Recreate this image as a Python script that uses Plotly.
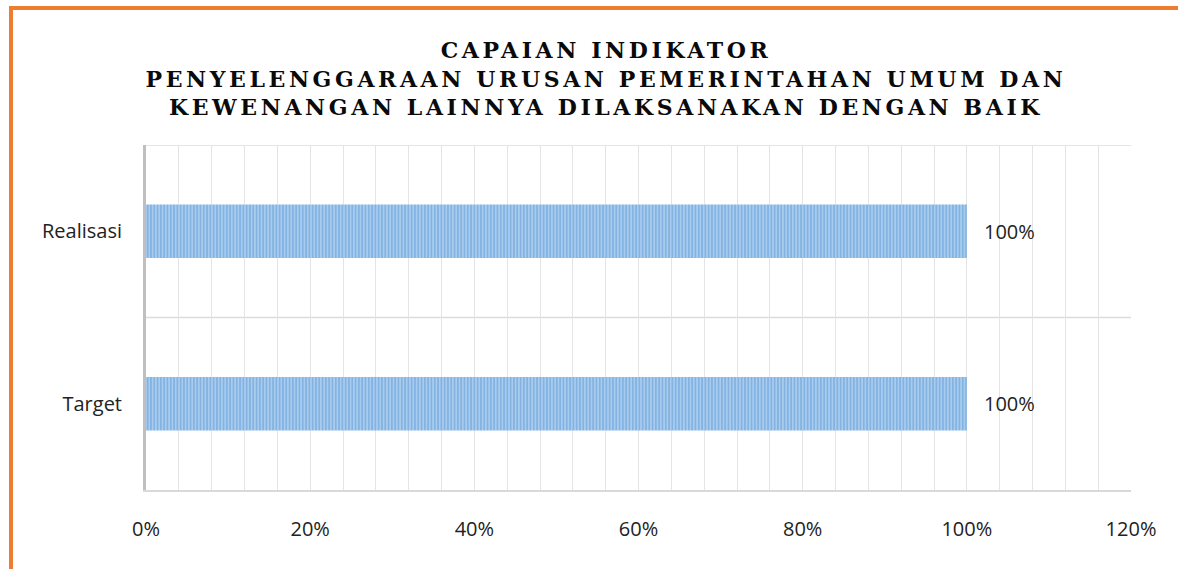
import plotly.graph_objects as go

categories = ["Target", "Realisasi"]
values = [1.0, 1.0]
value_labels = ["100%", "100%"]
x_tick_vals = [0, 0.2, 0.4, 0.6, 0.8, 1.0, 1.2]
x_tick_text = ["0%", "20%", "40%", "60%", "80%", "100%", "120%"]
title_lines = [
    "CAPAIAN INDIKATOR",
    "PENYELENGGARAAN URUSAN PEMERINTAHAN UMUM DAN",
    "KEWENANGAN LAINNYA DILAKSANAKAN DENGAN BAIK",
]

W, H = 1178, 569
L, R, T, B = 146, 47, 145, 79
pw, ph = W - L - R, H - T - B

def px_to_paper_x(px):
    return (px - L) / pw

def py_to_paper_y(py):
    return (H - B - py) / ph

FONT = "Open Sans"

fig = go.Figure()
fig.add_trace(go.Bar(
    y=categories, x=values, orientation="h",
    marker=dict(
        color="#9dc3e6",
        line=dict(width=0),
        pattern=dict(shape="|", fgcolor="#5b9bd5", bgcolor="#a8cbee", size=3.3, solidity=0.5),
    ),
    hoverinfo="skip",
))

for c, v, t in zip(categories, values, value_labels):
    fig.add_annotation(x=v, y=c, text=t, showarrow=False, xanchor="left",
                       xshift=15, font=dict(family=FONT, size=20, color="#222222"))

shapes = []
for yb in [0.5, 1.5]:
    shapes.append(dict(type="line", xref="paper", yref="y", x0=0, x1=1, y0=yb, y1=yb,
                       line=dict(color="#dcdcdc", width=1.5), layer="below"))
shapes.append(dict(type="line", xref="paper", yref="paper",
                   x0=px_to_paper_x(11), x1=px_to_paper_x(11),
                   y0=py_to_paper_y(8), y1=py_to_paper_y(H + 5),
                   line=dict(color="#ed7d31", width=4)))
shapes.append(dict(type="line", xref="paper", yref="paper",
                   x0=px_to_paper_x(9), x1=px_to_paper_x(W + 5),
                   y0=py_to_paper_y(8), y1=py_to_paper_y(8),
                   line=dict(color="#ed7d31", width=4)))

fig.update_layout(
    width=W, height=H,
    margin=dict(l=L, r=R, t=T, b=B),
    paper_bgcolor="white", plot_bgcolor="white",
    bargap=0.69,
    showlegend=False,
    shapes=shapes,
    title=dict(
        text="<br>".join(title_lines),
        x=606 / W, xanchor="center", xref="container",
        y=1 - 58 / H, yanchor="top", yref="container",
        font=dict(family="DejaVu Serif", size=22, color="#0a0a0a", weight="bold"),
    ),
    xaxis=dict(
        range=[0, 1.2], tickvals=x_tick_vals, ticktext=x_tick_text,
        showgrid=True, gridcolor="#e4e4e4", gridwidth=1,
        minor=dict(dtick=0.04, showgrid=True, gridcolor="#e4e4e4", gridwidth=1),
        showline=True, linecolor="#d9d9d9", linewidth=2,
        zeroline=False, ticks="",
        tickfont=dict(family=FONT, size=20, color="#222222"),
        ticklabelstandoff=20,
    ),
    yaxis=dict(
        categoryorder="array", categoryarray=categories,
        range=[-0.5, 1.5],
        showgrid=False, zeroline=False,
        showline=True, linecolor="#bfbfbf", linewidth=3,
        ticks="",
        tickfont=dict(family=FONT, size=20, color="#222222"),
        ticklabelstandoff=17,
    ),
)

post = """
document.body.style.margin = '0';
document.body.style.padding = '0';
var t = document.querySelector('.gtitle');
if (t) { t.style.letterSpacing = '3.6px'; }
"""
fig.write_html("out.html", post_script=post, config={"displayModeBar": False})
